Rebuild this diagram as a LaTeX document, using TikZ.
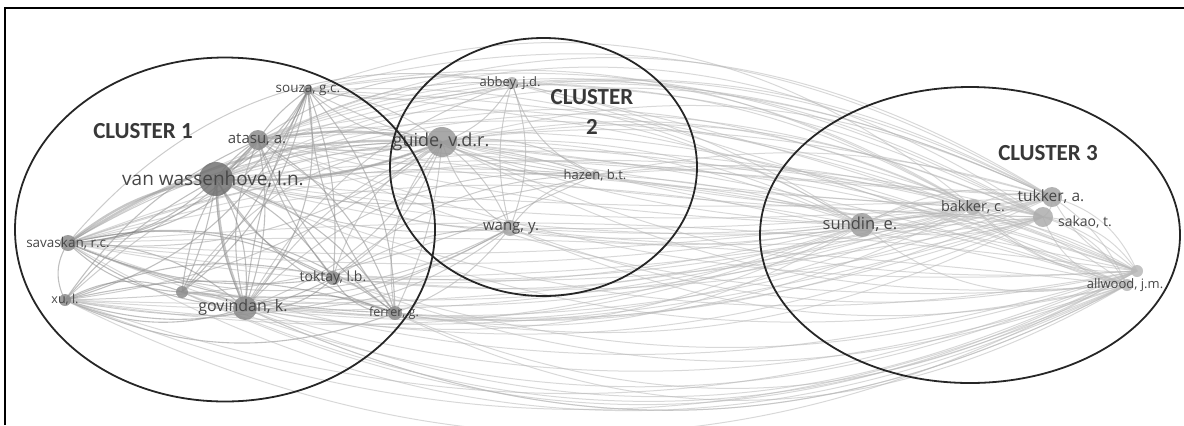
\documentclass[tikz,border=0pt]{standalone}
\usepackage{fontspec}
\setmainfont{Open Sans}
\newfontfamily\clfont{Carlito}
\usetikzlibrary{backgrounds}
\tikzset{
  dot/.style={circle,fill=black!45,fill opacity=0.85,draw=none,inner sep=0pt,minimum size={0.5pt*#1}},
  lab/.style={text=black!72,inner sep=0pt,font=\fontsize{\fpeval{#1*0.5}}{\fpeval{#1*0.6}}\selectfont},
  cl/.style={text=black!78,inner sep=0pt,font=\clfont\bfseries\fontsize{11.5}{15}\selectfont,align=center},
  edge/.style={draw=black!50,draw opacity=0.5,line width=0.55pt},
  emid/.style={draw=black!40,draw opacity=0.5,line width=0.5pt},
  elong/.style={draw=black!28,draw opacity=0.55,line width=0.5pt},
  fat/.style={draw=black!40,draw opacity=0.55,line width=1.2pt},
  clus/.style={draw=black!85,line width=0.9pt},
  frame/.style={draw=black,line width=0.9pt}
}
\begin{document}
\begin{tikzpicture}[x=0.5pt,y=0.5pt]
\useasboundingbox (0,0) rectangle (1184,-425);
% nodes
\node[dot=10] (sz) at (308,-90) {};
\node[dot=20] (at) at (258,-140) {};
\node[dot=34,fill=black!55] (vw) at (216,-179) {};
\node[dot=16] (sv) at (68,-243) {};
\node[dot=12] (xu) at (65,-300) {};
\node[dot=12] (un) at (182,-292) {};
\node[dot=24] (gv) at (245,-308) {};
\node[dot=14] (tk) at (333,-278) {};
\node[dot=14] (fr) at (395,-313) {};
\node[dot=12,fill=black!30] (ab) at (512,-83) {};
\node[dot=30,fill=black!40] (gd) at (442,-142) {};
\node[dot=10,fill=black!30] (hz) at (595,-175) {};
\node[dot=16,fill=black!35] (wg) at (510,-228) {};
\node[dot=24,fill=black!38] (sd) at (862,-225) {};
\node[dot=16,fill=black!30] (bk) at (973,-207) {};
\node[dot=20,fill=black!35] (tu) at (1052,-197) {};
\node[dot=20,fill=black!32] (sk) at (1043,-217) {};
\node[dot=12,fill=black!28] (aw) at (1137,-271) {};
\node[dot=12,fill=black!28] (aw2) at (1127,-285) {};
% edges
\begin{scope}[on background layer]
% cluster 1 internal
\foreach \pa/\pb/\pc in {vw/at/10,vw/sz/-15,vw/sv/20,vw/xu/-10,vw/un/8,vw/gv/-12,vw/tk/15,vw/fr/-20,
  at/sz/10,at/sv/25,at/gv/15,at/tk/-10,at/fr/20,sz/sv/30,sz/gv/-10,sz/tk/12,sz/fr/-18,sz/xu/25,
  sv/xu/-30,sv/gv/20,sv/tk/-15,sv/fr/25,xu/gv/-20,xu/tk/18,xu/fr/-22,un/gv/15,un/sz/-12,un/at/20,
  gv/tk/-25,gv/fr/20,tk/fr/-30,sv/un/-20,xu/un/25,vw/tk/-20,vw/fr/18,at/xu/-15,sz/un/20,gv/sz/-25,
  at/gv/-18,sv/tk/20,xu/fr/15,sv/fr/-10,at/fr/-15,sz/fr/20,vw/gv/18,sv/gv/-15,xu/tk/-22}
  \draw[edge] (\pa.center) to[bend left=\pc] (\pb.center);
% cluster 1 - cluster 2 and cluster 2 internal
\foreach \pa/\pb/\pc in {vw/ab/20,vw/wg/-15,vw/hz/18,at/gd/-10,sz/gd/15,sz/ab/-12,sv/gd/-20,gv/gd/15,gv/wg/-20,tk/gd/-18,
  fr/gd/25,xu/gd/20,at/ab/22,sv/ab/30,sv/wg/-25,xu/wg/-20,gv/hz/25,fr/wg/-15,tk/hz/20,un/gd/25,
  vw/gd/-12,at/gd/15,sz/gd/-20,sv/gd/15,xu/gd/-15,gv/gd/-20,tk/gd/22,fr/gd/-10,un/wg/-18,at/wg/-20,
  sz/hz/-10,sv/hz/12,vw/hz/-14,tk/wg/15,xu/hz/-12,gv/ab/20,
  gd/ab/-20,gd/wg/15,gd/hz/-15,ab/wg/20,ab/hz/-25,wg/hz/20,ab/wg/-15,gd/wg/-20,gd/hz/20}
  \draw[emid] (\pa.center) to[bend left=\pc] (\pb.center);
% long connections to cluster 3
\foreach \pa/\pc in {vw/18,at/22,sz/16,sv/12,xu/-14,gv/-18,tk/-12,fr/-20,un/-16,gd/14,ab/10,wg/-10,hz/8,vw/-10,sv/-12,at/-6,gd/-8}
  \foreach \pb/\pd in {sd/0,bk/4,tu/6,sk/2,aw/-6,aw2/-8}
  {\pgfmathtruncatemacro\pe{\pc+\pd}
   \draw[elong] (\pa.center) to[bend left=\pe] (\pb.center);}
\foreach \pa/\pb/\pc in {xu/aw/-28,sv/aw2/-28,un/aw/-26,gv/aw2/-26,sv/tu/28,vw/tu/26,at/sk/28,sz/bk/30}
  \draw[elong] (\pa.center) to[bend left=\pc] (\pb.center);
% cluster 3 internal
\foreach \pa/\pb/\pc in {sd/bk/-25,sd/tu/20,sd/sk/-15,sd/aw/-30,bk/tu/20,bk/sk/-20,bk/aw/-25,tu/sk/30,tu/aw/-20,sk/aw/25,
  sd/aw2/25,tu/aw2/15,bk/aw2/-15,sk/aw2/-30,sd/aw/20,sd/bk/20,sd/tu/-10,bk/aw/20,tu/aw/25,sk/aw2/20,sd/sk/22}
  \draw[elong] (\pa.center) to[bend left=\pc] (\pb.center);
\draw[fat] (vw.center) to[bend right=15] (sv.center);
\draw[fat] (vw.center) to[bend right=12] (gd.center);
\draw[fat] (vw.center) to[bend right=5] (at.center);
\draw[fat] (vw.center) to[bend right=10] (gv.center);
\draw[fat] (at.center) to[bend left=10] (gd.center);
\draw[fat] (sv.center) to[bend left=18] (gd.center);
\end{scope}
% labels
\node[lab=13.5] (szl) at (308,-90) {souza, g.c.};
\node[lab=15] (atl) at (257,-140) {atasu, a.};
\node[lab=19] (vwl) at (213,-179) {van wassenhove, l.n.};
\node[lab=13.5] (svl) at (68,-243) {savaskan, r.c.};
\node[lab=12.5] (xul) at (65,-300) {xu, l.};
\node[lab=16] (gvl) at (243,-307) {govindan, k.};
\node[lab=14] (tkl) at (333,-278) {toktay, l.b.};
\node[lab=12.5] (frl) at (394,-313) {ferrer, g.};
\node[lab=13] (abl) at (510,-83) {abbey, j.d.};
\node[lab=18] (gdl) at (441,-142) {guide, v.d.r.};
\node[lab=13] (hzl) at (595,-175) {hazen, b.t.};
\node[lab=15] (wgl) at (511,-228) {wang, y.};
\node[lab=16.5] (sdl) at (860,-224) {sundin, e.};
\node[lab=14.5] (bkl) at (973,-207) {bakker, c.};
\node[lab=15.5] (tul) at (1051,-197) {tukker, a.};
\node[lab=14] (skl) at (1085,-222) {sakao, t.};
\node[lab=13] (awl) at (1125,-285) {allwood, j.m.};
% clusters
\draw[clus] (225,-229.5) ellipse [x radius=210, y radius=172];
\draw[clus] (543.5,-167) ellipse [x radius=153.5, y radius=129];
\draw[clus] (970,-235) ellipse [x radius=210, y radius=148];
\node[cl] (c1) at (143,-131) {CLUSTER 1};
\node[cl] (c2) at (592,-112) {CLUSTER\\2};
\node[cl] (c3) at (1048,-153) {CLUSTER 3};
% frame
\draw[frame] (5,-425) -- (5,-8) -- (1184,-8);
\end{tikzpicture}
\end{document}
